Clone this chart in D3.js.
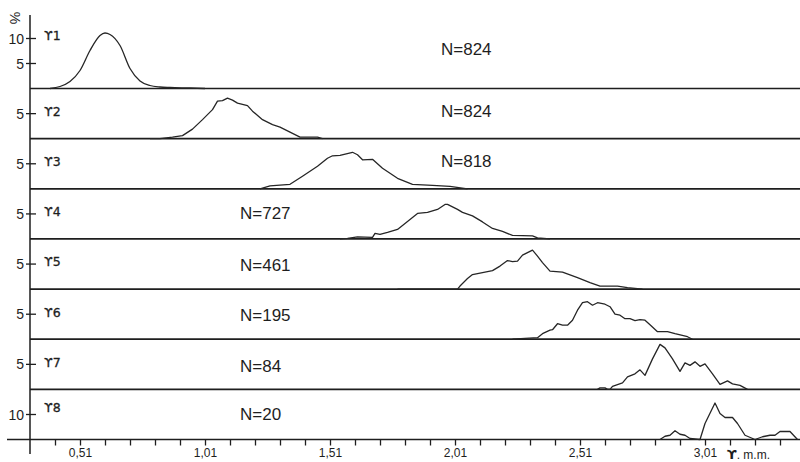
<!DOCTYPE html>
<html>
<head>
<meta charset="utf-8">
<script src="https://cdn.jsdelivr.net/npm/d3@7"></script>
<style>
  html, body { margin: 0; padding: 0; background: #fff; }
  svg { display: block; }
  text { fill: #1e1e1e; }
</style>
</head>
<body>
<svg id="chart" width="800" height="462"></svg>
<script>
// Grain-size frequency distributions (%), one row per stage ϒ1 … ϒ8
const stages = ["ϒ1", "ϒ2", "ϒ3", "ϒ4", "ϒ5", "ϒ6", "ϒ7", "ϒ8"];
const counts = [824, 824, 818, 727, 461, 195, 84, 20];

const size1 = [0.39, 0.43, 0.47, 0.51, 0.55, 0.59, 0.61, 0.63, 0.67, 0.71, 0.75, 0.79, 0.83, 0.87, 0.95, 1.01];
const pct1  = [0, 0.4, 1.4, 3.6, 7.6, 10.6, 11.1, 10.8, 8.6, 4.0, 1.5, 0.6, 0.3, 0.2, 0.1, 0];

const size2 = [0.79, 0.83, 0.88, 0.92, 0.96, 1.00, 1.04, 1.06, 1.08, 1.10, 1.12, 1.14, 1.18, 1.20, 1.24, 1.28, 1.31, 1.35, 1.39, 1.46, 1.48];
const pct2  = [0, 0, 0.3, 0.6, 1.9, 3.8, 5.8, 7.5, 7.6, 8.1, 7.7, 7.1, 6.6, 5.5, 3.8, 2.8, 2.3, 1.3, 0.3, 0.3, 0];

const size3 = [1.23, 1.27, 1.35, 1.40, 1.46, 1.50, 1.52, 1.55, 1.60, 1.62, 1.64, 1.68, 1.72, 1.78, 1.84, 1.92, 1.99, 2.06];
const pct3  = [0, 0.6, 0.9, 2.5, 4.5, 6.1, 6.6, 6.7, 7.3, 6.8, 5.8, 5.9, 4.1, 2.1, 0.9, 0.7, 0.5, 0];

const size4 = [1.55, 1.58, 1.62, 1.68, 1.69, 1.71, 1.74, 1.78, 1.83, 1.86, 1.90, 1.94, 1.97, 1.98, 2.02, 2.04, 2.08, 2.12, 2.16, 2.20, 2.24, 2.32, 2.34, 2.39];
const pct4  = [0, 0.1, 0.4, 0.3, 1.1, 0.9, 1.3, 1.9, 3.9, 5.1, 5.3, 5.9, 6.9, 6.9, 5.9, 5.3, 4.6, 3.4, 2.1, 1.5, 0.7, 0.6, 0.2, 0];

const size5 = [1.78, 2.02, 2.03, 2.06, 2.08, 2.12, 2.16, 2.19, 2.22, 2.24, 2.26, 2.28, 2.30, 2.32, 2.34, 2.36, 2.39, 2.44, 2.50, 2.55, 2.59, 2.66, 2.70, 2.76];
const pct5  = [0, 0, 0.6, 2.1, 2.9, 3.3, 3.7, 4.6, 5.7, 5.5, 5.6, 6.8, 7.3, 7.8, 6.6, 5.3, 3.6, 3.4, 2.3, 1.3, 0.6, 0.6, 0.3, 0];

const size6 = [2.24, 2.34, 2.36, 2.39, 2.40, 2.42, 2.44, 2.46, 2.48, 2.50, 2.52, 2.54, 2.56, 2.58, 2.61, 2.63, 2.65, 2.67, 2.69, 2.71, 2.73, 2.75, 2.77, 2.79, 2.82, 2.86, 2.89, 2.94, 2.96];
const pct6  = [0, 0.3, 1.1, 1.8, 1.9, 3.1, 2.8, 2.8, 3.8, 5.8, 7.3, 7.5, 6.8, 7.3, 7.0, 6.5, 5.0, 4.8, 4.1, 4.1, 3.7, 3.9, 3.8, 2.9, 1.5, 1.5, 1.1, 0.5, 0];

const size7 = [2.58, 2.59, 2.61, 2.62, 2.63, 2.64, 2.68, 2.70, 2.73, 2.75, 2.77, 2.80, 2.83, 2.85, 2.88, 2.91, 2.93, 2.95, 2.97, 2.99, 3.01, 3.04, 3.07, 3.10, 3.12, 3.15, 3.18];
const pct7  = [0, 0.3, 0.3, 0, 0, 0.6, 1.3, 2.5, 3.1, 3.9, 2.8, 6.1, 9.0, 8.3, 6.1, 3.6, 5.3, 4.8, 5.5, 4.6, 5.1, 3.1, 1.0, 1.7, 1.1, 0.8, 0];

const size8 = [2.83, 2.85, 2.87, 2.89, 2.91, 2.93, 2.95, 2.99, 3.01, 3.05, 3.07, 3.09, 3.12, 3.14, 3.17, 3.21, 3.24, 3.27, 3.29, 3.31, 3.35, 3.38];
const pct8  = [0, 1.3, 1.7, 3.5, 2.1, 1.7, 0.4, 0, 6.4, 14.6, 10.4, 8.8, 8.8, 6.4, 1.7, 0, 1.1, 1.7, 1.7, 3.2, 3.2, 0];

const sizes = [size1, size2, size3, size4, size5, size6, size7, size8];
const pcts  = [pct1, pct2, pct3, pct4, pct5, pct6, pct7, pct8];

// percentage ticks per row and the full % span of each row
const yTicks = [[5, 10], [5], [5], [5], [5], [5], [5], [10]];
const pctSpan = [10, 10, 10, 10, 10, 10, 10, 20];

// x axis: minor ticks every 0.1 mm, labelled every 0.5 mm
const xLabelValues = [0.51, 1.01, 1.51, 2.01, 2.51, 3.01];
const xLabels = ["0,51", "1,01", "1,51", "2,01", "2,51", "3,01"];
const xUnit = "m.m.";

const svg = d3.select("#chart");
const INK = "#1e1e1e";

const x = d3.scaleLinear().domain([0.51, 3.01]).range([80, 705]);
const base = d3.scalePoint().domain(stages).range([88.5, 439.5]);
const rowY = stages.map((s, i) =>
  d3.scaleLinear().domain([0, pctSpan[i]]).range([base(s), base(s) - 50]));

const axisX = 30;

// row baselines
stages.forEach((s, i) => {
  const last = i === stages.length - 1;
  svg.append("line")
    .attr("x1", last ? 7 : axisX).attr("x2", 800)
    .attr("y1", base(s)).attr("y2", base(s))
    .attr("stroke", INK).attr("stroke-width", 1.7);
});

// vertical axis
svg.append("line")
  .attr("x1", axisX).attr("x2", axisX)
  .attr("y1", 15).attr("y2", 454)
  .attr("stroke", INK).attr("stroke-width", 1.5);

// % label
svg.append("text")
  .attr("transform", "translate(15,18) rotate(90)")
  .attr("font-family", "Liberation Sans, Arial, sans-serif")
  .attr("font-size", 14)
  .attr("text-anchor", "middle")
  .attr("dominant-baseline", "central")
  .text("%");

// per-row percentage ticks
stages.forEach((s, i) => {
  const g = svg.append("g");
  yTicks[i].forEach(t => {
    const yy = rowY[i](t);
    g.append("line")
      .attr("x1", axisX - 4).attr("x2", axisX + 6)
      .attr("y1", yy).attr("y2", yy)
      .attr("stroke", INK).attr("stroke-width", 1.3);
    g.append("text")
      .attr("x", axisX - 6).attr("y", yy)
      .attr("text-anchor", "end")
      .attr("dominant-baseline", "central")
      .attr("font-family", "Liberation Sans, Arial, sans-serif")
      .attr("font-size", 14)
      .text(t);
  });
});

// stage labels
const labelLift = [53, 27, 27, 27, 28, 27, 27, 32];
stages.forEach((s, i) => {
  svg.append("text")
    .attr("x", 44).attr("y", base(s) - labelLift[i])
    .attr("dominant-baseline", "central")
    .attr("font-family", "DejaVu Sans, sans-serif")
    .attr("font-size", 12.5)
    .attr("stroke", INK)
    .attr("stroke-width", 0.3)
    .text(s);
});

// N labels
const nLeft = [441, 441, 441, 240, 240, 240, 240, 240];
const nLift = [39, 27, 27, 25, 24, 24, 23, 25];
stages.forEach((s, i) => {
  svg.append("text")
    .attr("x", nLeft[i]).attr("y", base(s) - nLift[i])
    .attr("dominant-baseline", "central")
    .attr("font-family", "Liberation Sans, Arial, sans-serif")
    .attr("font-size", 17)
    .text("N=" + counts[i]);
});

// frequency curves
stages.forEach((s, i) => {
  const pts = sizes[i].map((v, k) => [v, pcts[i][k]]);
  const line = d3.line()
    .x(d => x(d[0]))
    .y(d => rowY[i](d[1]))
    .curve(i === 0 ? d3.curveMonotoneX : d3.curveLinear);
  svg.append("path")
    .attr("d", line(pts))
    .attr("fill", "none")
    .attr("stroke", "#262626")
    .attr("stroke-width", 1.3)
    .attr("stroke-linejoin", "round");
});

// x axis
const xBase = base(stages[stages.length - 1]);
const minorTicks = d3.range(0, 30).map(k => +(0.41 + k * 0.1).toFixed(2));
const xAxis = d3.axisBottom(x)
  .tickValues(minorTicks)
  .tickSize(6)
  .tickFormat(d => {
    const j = xLabelValues.findIndex(v => Math.abs(v - d) < 1e-6);
    return j >= 0 ? xLabels[j] : "";
  });
const gx = svg.append("g")
  .attr("transform", `translate(0,${xBase})`)
  .call(xAxis);
gx.select(".domain").remove();
gx.selectAll(".tick line").attr("stroke", INK).attr("stroke-width", 1.3);
gx.selectAll(".tick text")
  .attr("y", 9)
  .attr("font-family", "Liberation Sans, Arial, sans-serif")
  .attr("font-size", 12)
  .attr("fill", INK);
gx.selectAll(".tick").filter(d => d > 3.32).remove();

// unit label
const unit = svg.append("text")
  .attr("x", 727).attr("y", xBase + 19)
  .attr("font-family", "Liberation Sans, Arial, sans-serif")
  .attr("font-size", 12);
unit.append("tspan").attr("font-family", "DejaVu Sans, sans-serif")
  .attr("font-size", 13)
  .attr("font-weight", "bold").text("ϒ");
unit.append("tspan").text(". " + xUnit);
</script>
</body>
</html>
